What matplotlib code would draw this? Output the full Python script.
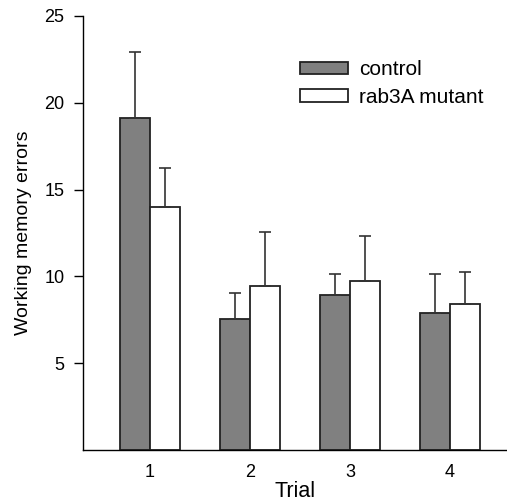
import numpy as np
import matplotlib
matplotlib.use("Agg")
from matplotlib import pyplot as plt

# Data
trials = [1, 2, 3, 4]
control = [19.1, 7.55, 8.9, 7.9]
control_err = [3.8, 1.5, 1.25, 2.25]
mutant = [14.0, 9.45, 9.75, 8.4]
mutant_err = [2.25, 3.1, 2.6, 1.85]
series_names = ["control", "rab3A mutant"]

plt.rcParams['font.family'] = ['Liberation Sans', 'DejaVu Sans']

fig = plt.figure(figsize=(5.07, 5.04), dpi=100)
ax = fig.add_axes([83/507, 54/504, 1 - 83/507, 434/504])

x = np.array(trials, dtype=float)
w = 0.3
err_style = dict(ecolor="#333333", elinewidth=1.2, capsize=4, capthick=1.2)

ax.bar(x - w/2, control, width=w, color="#808080", edgecolor="#222222",
       linewidth=1.3, yerr=[np.zeros(4), control_err], error_kw=err_style,
       label=series_names[0])
ax.bar(x + w/2, mutant, width=w, color="white", edgecolor="#222222",
       linewidth=1.3, yerr=[np.zeros(4), mutant_err], error_kw=err_style,
       label=series_names[1])

ax.set_xlim(0.33, 4.57)
ax.set_ylim(0, 25)
ax.set_yticks([5, 10, 15, 20, 25])
ax.set_xticks(trials)
ax.tick_params(axis="y", length=6.5, width=1, labelsize=13, pad=7)
ax.tick_params(axis="x", length=0, labelsize=13, pad=10)
for s in ["top", "right"]:
    ax.spines[s].set_visible(False)
ax.spines["left"].set_linewidth(1)
ax.spines["bottom"].set_linewidth(1)

ax.set_ylabel("Working memory errors", fontsize=14, labelpad=9)
ax.set_xlabel("Trial", fontsize=15.5, labelpad=0)

leg = ax.legend(loc="upper left", bbox_to_anchor=(0.512, 0.898), frameon=False,
                fontsize=15, handlelength=2.3, handleheight=0.55,
                handletextpad=0.55, labelspacing=0.4,
                borderpad=0, borderaxespad=0)

fig.savefig("out.png", dpi=100)
